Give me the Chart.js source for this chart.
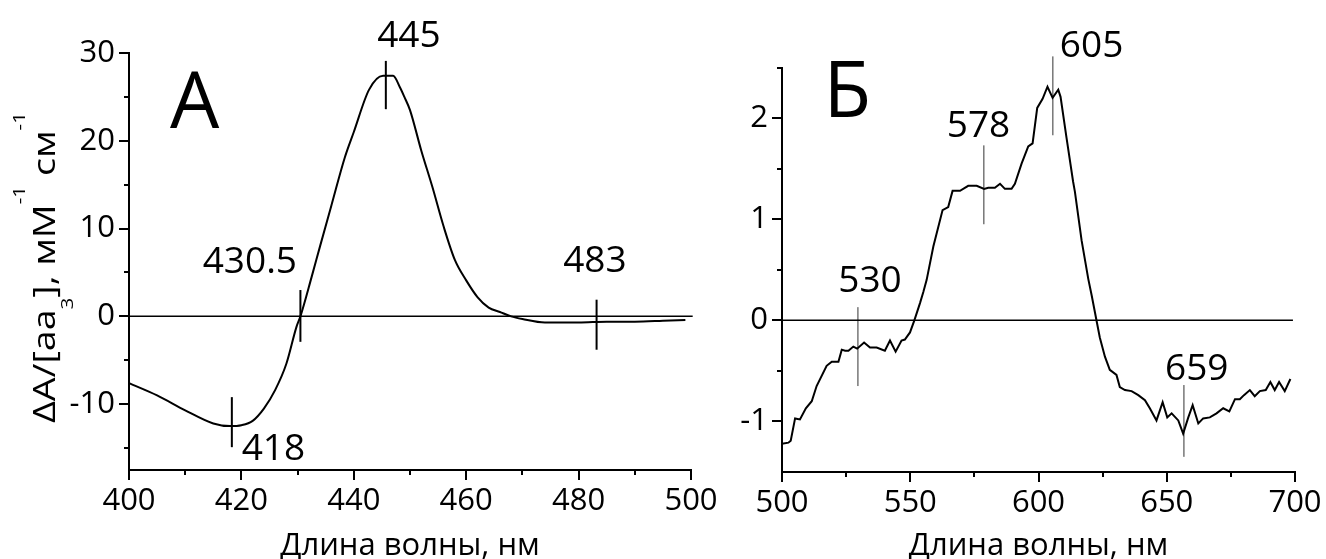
<!DOCTYPE html>
<html><head><meta charset="utf-8">
<script src="https://cdn.jsdelivr.net/npm/chart.js@4.4.1/dist/chart.umd.min.js"></script>
<style>
html,body{margin:0;padding:0;background:#fff;width:1326px;height:559px;overflow:hidden}
#wa{position:absolute;left:0;top:0;width:720px;height:559px}
#wb{position:absolute;left:720px;top:0;width:606px;height:559px}
canvas{display:block}
</style></head><body>
<div id="wa"><canvas id="ca" width="720" height="559"></canvas></div>
<div id="wb"><canvas id="cb" width="606" height="559"></canvas></div>
<script>
// ---------- Panel А data ----------
const wavelengthA = [400,405,410,415,418,420,422,424,426,428,429.8,430.5,432.5,434,436,438.4,440,442.7,445.2,447,448.2,449,450,452,454,456,458,460,462,464,466,468,470,474,480,485,490,495,499];
const deltaA      = [-7.6,-9.0,-10.7,-12.2,-12.5,-12.4,-11.9,-10.5,-8.4,-5.4,-1.2,0,4.5,8.0,12.6,18.1,21.0,25.8,27.4,27.4,26.1,25.0,23.5,18.9,14.7,10.2,6.4,4.1,2.2,1.0,0.5,0,-0.3,-0.7,-0.7,-0.6,-0.6,-0.5,-0.4];
const xTicksA = [400,420,440,460,480,500];
const xMinorA = [410,430,450,470,490];
const yTicksA = [-10,0,10,20,30];
const yMinorA = [-15,-5,5,15,25];
// markers: wavelength, low value, high value
const markerWlA   = [445.7,430.5,418.3,483.2];
const markerLowA  = [23.6,-2.9,-14.9,-3.8];
const markerHighA = [29.1,3.0,-9.2,1.9];
// labels: text and anchor (data units)
const labelTextA = ['445','430.5','418','483'];
const labelWlA   = [449.8,421.5,425.7,482.9];
const labelValA  = [30.7,4.9,-16.4,5.0];

// ---------- Panel Б data ----------
const wavelengthB = [500,502.5,503.4,505.1,507,509.3,511.6,513.5,517.4,519.4,522,523.3,524.6,525.9,527.8,529.3,532,534.3,536.9,540.1,542.1,544.3,546.6,547.9,549.9,551.6,553.8,555.1,556.4,559,562.6,564.8,566.5,569.4,572.6,575.9,578.8,580.4,583,585,586.9,589.5,590.8,593.4,596,597.7,599.5,601.6,603.5,605.5,607.7,608.6,610.9,613.5,614.2,616.8,619.4,620.7,622.6,623.9,625.9,627.8,630.4,631.7,633.7,636.3,638.9,641.5,643.4,646,648.4,650.2,651.9,654.5,656.4,658.4,660.1,662.3,664.2,666.8,669.4,672,674.4,676.6,678.5,680.1,682.4,684.3,686.3,688.6,690.4,692.1,693.8,696,698.2];
const deltaB      = [-1.22,-1.21,-1.19,-0.97,-0.98,-0.87,-0.80,-0.65,-0.45,-0.41,-0.41,-0.29,-0.30,-0.30,-0.26,-0.28,-0.22,-0.27,-0.27,-0.30,-0.20,-0.31,-0.20,-0.19,-0.12,0,0.17,0.28,0.40,0.73,1.09,1.12,1.28,1.28,1.33,1.33,1.30,1.31,1.31,1.35,1.30,1.30,1.35,1.55,1.72,1.75,2.10,2.19,2.31,2.20,2.28,2.21,1.81,1.37,1.27,0.79,0.41,0.25,0,-0.17,-0.36,-0.49,-0.54,-0.66,-0.69,-0.70,-0.74,-0.79,-0.87,-0.99,-0.81,-0.96,-0.92,-0.99,-1.12,-0.96,-0.84,-1.02,-0.97,-0.96,-0.92,-0.87,-0.90,-0.78,-0.78,-0.74,-0.69,-0.75,-0.70,-0.69,-0.61,-0.69,-0.61,-0.70,-0.58];
const xTicksB = [500,550,600,650,700];
const xMinorB = [525,575,625,675];
const yTicksB = [-1,0,1,2];
const yMinorB = [-0.5,0.5,1.5,2.5];
const markerWlB   = [529.6,578.7,605.6,656.7];
const markerLowB  = [-0.65,0.95,1.83,-1.35];
const markerHighB = [0.13,1.73,2.61,-0.64];
const labelTextB = ['530','578','605','659'];
const labelWlB   = [534.3,576.6,620.7,661.7];
const labelValB  = [0.277,1.81,2.60,-0.59];

const FONT = "'Open Sans', 'Noto Sans', sans-serif";
const xTitle = 'Длина волны, нм';

function pts(xs, ys){ return xs.map((x,i)=>({x:x, y:ys[i]})); }

function markerSets(wl, lo, hi, width, color){
  return wl.map((w,i)=>({data:[{x:w,y:lo[i]},{x:w,y:hi[i]}], borderColor:color, borderWidth:width, pointRadius:0, clip:false, tension:0}));
}

// tick marks (major + minor) drawn through the scales
const tickPlugin = {
  id:'tickMarks',
  afterDraw(chart, args, opts){
    const ctx = chart.ctx, xs = chart.scales.x, ys = chart.scales.y;
    ctx.save();
    ctx.strokeStyle = '#000'; ctx.lineWidth = 2;
    const b = chart.chartArea.bottom, l = chart.chartArea.left;
    ctx.beginPath();
    opts.xMajor.forEach(v=>{const p=Math.round(xs.getPixelForValue(v)); ctx.moveTo(p,b); ctx.lineTo(p,b+10);});
    opts.xMinor.forEach(v=>{const p=Math.round(xs.getPixelForValue(v)); ctx.moveTo(p,b); ctx.lineTo(p,b+5);});
    opts.yMajor.forEach(v=>{const p=Math.round(ys.getPixelForValue(v)); ctx.moveTo(l,p); ctx.lineTo(l-10,p);});
    opts.yMinor.forEach(v=>{const p=Math.round(ys.getPixelForValue(v)); ctx.moveTo(l,p); ctx.lineTo(l-5,p);});
    ctx.stroke();
    ctx.restore();
  }
};

// annotation labels, panel letter, x title, optional y title
const textPlugin = {
  id:'texts',
  afterDraw(chart, args, o){
    const ctx = chart.ctx, xs = chart.scales.x, ys = chart.scales.y, ca = chart.chartArea;
    ctx.save();
    ctx.fillStyle = '#000';
    ctx.textAlign = 'center'; ctx.textBaseline = 'alphabetic';
    ctx.font = '37px ' + FONT;
    o.labels.forEach((t,i)=>{ ctx.fillText(t, xs.getPixelForValue(o.lx[i]), ys.getPixelForValue(o.ly[i])); });
    ctx.font = '78px ' + FONT;
    ctx.fillText(o.letter, xs.getPixelForValue(o.letterX), ys.getPixelForValue(o.letterY));
    ctx.font = '31px ' + FONT;
    ctx.fillText(xTitle, (ca.left+ca.right)/2, 555);
    if (o.yTitle){
      const parts = [['ΔA/[aa',0],['3',1],['], мМ',0],['-1',2],[' см',0],['-1',2]];
      const fonts = ['31px '+FONT, '17px '+FONT, '17px '+FONT];
      const dys = [0, 18, -30];
      ctx.translate(55, 267.5);
      ctx.rotate(-Math.PI/2);
      let total = 0;
      parts.forEach(p=>{ ctx.font = fonts[p[1]]; total += ctx.measureText(p[0]).width; });
      ctx.scale(311/total, 1);
      ctx.textAlign = 'left';
      let x = -total/2;
      parts.forEach(p=>{ ctx.font = fonts[p[1]]; ctx.fillText(p[0], x, dys[p[1]]); x += ctx.measureText(p[0]).width; });
    }
    ctx.restore();
  }
};

function makeChart(id, cfg){
  const xt = cfg.xTicks, yt = cfg.yTicks;
  return new Chart(document.getElementById(id), {
    type:'line',
    data:{ datasets: [
      {data: pts(cfg.zeroX, [0,0]), borderColor:'#000', borderWidth:1.5, pointRadius:0, clip:false},
      {data: pts(cfg.wl, cfg.val), borderColor:'#000', borderWidth:2, pointRadius:0, tension:cfg.tension, cubicInterpolationMode:cfg.cubic, clip:false},
      ...markerSets(cfg.mWl, cfg.mLo, cfg.mHi, cfg.mWidth, cfg.mColor)
    ]},
    options:{
      responsive:false, animation:false, events:[],
      layout:{padding:cfg.padding},
      plugins:{legend:{display:false}, tooltip:{enabled:false},
        tickMarks:{xMajor:xt, xMinor:cfg.xMinor, yMajor:yt, yMinor:cfg.yMinor},
        texts:cfg.texts},
      scales:{
        x:{type:'linear', min:cfg.xMin, max:cfg.xMax,
          afterBuildTicks(s){ s.ticks = xt.map(v=>({value:v})); },
          afterFit(s){ s.height = cfg.xH; s.paddingLeft = 0; s.paddingRight = 0; },
          grid:{display:false, drawTicks:false},
          border:{display:true, color:'#000', width:2},
          ticks:{color:'#000', padding:13, maxRotation:0, autoSkip:false, font:{family:FONT, size:31}}},
        y:{type:'linear', min:cfg.yMin, max:cfg.yMax,
          afterBuildTicks(s){ s.ticks = yt.map(v=>({value:v})); },
          afterFit(s){ s.width = cfg.yW; s.paddingTop = 0; s.paddingBottom = 0; },
          grid:{display:false, drawTicks:false},
          border:{display:true, color:'#000', width:2},
          ticks:{color:'#000', padding:14, autoSkip:false, font:{family:FONT, size:31}}}
      }
    },
    plugins:[tickPlugin, textPlugin]
  });
}

makeChart('ca', {
  wl:wavelengthA, val:deltaA, tension:0.4, cubic:'monotone',
  zeroX:[400,500.3], xMin:400, xMax:500, yMin:-17.5, yMax:30,
  xTicks:xTicksA, xMinor:xMinorA, yTicks:yTicksA, yMinor:yMinorA,
  mWl:markerWlA, mLo:markerLowA, mHi:markerHighA, mWidth:2, mColor:'#000',
  padding:{left:0, right:29, top:53, bottom:0}, xH:89, yW:129,
  texts:{labels:labelTextA, lx:labelWlA, ly:labelValA, letter:'А', letterX:411.7, letterY:21.5, yTitle:true}
});
makeChart('cb', {
  wl:wavelengthB, val:deltaB, tension:0, cubic:'default',
  zeroX:[500,699.2], xMin:500, xMax:700, yMin:-1.5, yMax:2.5,
  xTicks:xTicksB, xMinor:xMinorB, yTicks:yTicksB, yMinor:yMinorB,
  mWl:markerWlB, mLo:markerLowB, mHi:markerHighB, mWidth:1, mColor:'#333',
  padding:{left:0, right:31, top:67.5, bottom:0}, xH:87, yW:62,
  texts:{labels:labelTextB, lx:labelWlB, ly:labelValB, letter:'Б', letterX:525.5, letterY:2.01, yTitle:false}
});
</script>
</body></html>
